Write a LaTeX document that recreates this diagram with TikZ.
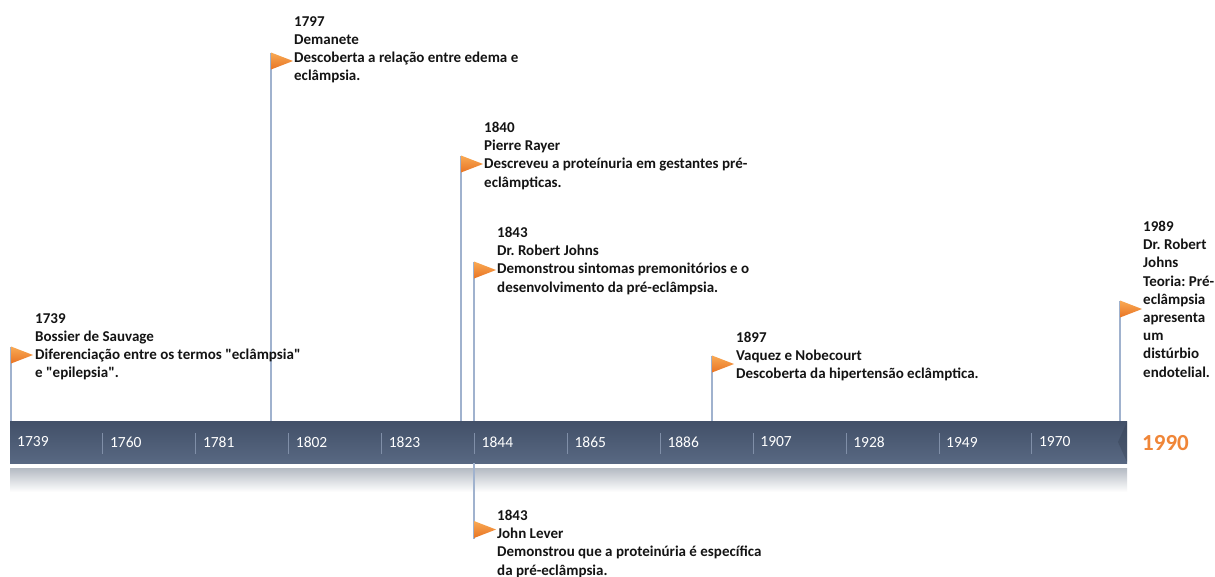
\documentclass[tikz,border=0pt]{standalone}
\usepackage{fontspec}
\setmainfont{Carlito}
\definecolor{barTop}{RGB}{66,80,104}
\definecolor{barBot}{RGB}{88,104,130}
\definecolor{tickc}{RGB}{128,143,168}
\definecolor{evline}{RGB}{160,178,206}
\definecolor{flagA}{RGB}{249,170,84}
\definecolor{flagB}{RGB}{232,116,36}
\definecolor{orangeTxt}{RGB}{240,134,56}
\definecolor{shadowc}{RGB}{180,186,195}
\definecolor{txtc}{RGB}{20,20,20}
\begin{document}
\frenchspacing
\begin{tikzpicture}[x=1pt,y=-1pt,
  evtext/.style={anchor=north west,inner sep=0pt,align=left,text=txtc,
    font=\frenchspacing\bfseries\fontsize{15}{18.2}\selectfont},
  ticklabel/.style={anchor=west,inner sep=0pt,text=white,
    font=\fontsize{15.5}{18}\selectfont},
  tickline/.style={draw=tickc,line width=0.9pt},
  evline/.style={draw=evline,line width=1.1pt},
  flagshape/.style={top color=flagA,bottom color=flagB,draw=none},
  barbox/.style={rectangle,inner sep=0pt,minimum width=1117pt,minimum height=42pt,
    top color=barTop,bottom color=barBot,draw=none}]
\useasboundingbox (0,0) rectangle (1215,576);
\fill[white] (0,0) rectangle (1215,576);

% reflection / shadow under the bar
\shade[top color=shadowc,bottom color=white] (10,468) rectangle (1127,492);

% the bar
\node[barbox] (bar) at (568.5,442) {};
\fill[barTop!70!black,opacity=0.3] (1127,422) -- (1118,442) -- (1127,462) -- cycle;

% ticks and labels
\node[ticklabel] (t1739) at (17,442) {1739};
\foreach \i/\yr in {1/1760,2/1781,3/1802,4/1823,5/1844,6/1865,7/1886,8/1907,9/1928,10/1949,11/1970}{
  \pgfmathsetmacro{\xx}{10+\i*92.9}
  \coordinate (s\yr) at (\xx,433);
  \draw[tickline] (s\yr) -- ++(0,21);
  \node[ticklabel] (t\yr) at (\xx+7,442) {\yr};
}
\node[anchor=west,inner sep=0pt,text=orangeTxt,font=\bfseries\fontsize{23}{26}\selectfont] (t1990) at (1142,443) {1990};

% flag anchor points (top of each flag)
\coordinate (f1739) at (11,346.5);
\coordinate (f1797) at (271,52.5);
\coordinate (f1840) at (461,155.5);
\coordinate (f1843a) at (474,261.5);
\coordinate (f1897) at (712,355.5);
\coordinate (f1989) at (1120,300.5);
\coordinate (f1843b) at (474,521);
\coordinate (end1843b) at (474,539);

% event lines
\foreach \f in {f1739,f1797,f1840,f1843a,f1897,f1989}{
  \draw[evline] (\f) -- (\f |- bar.north);
}
\draw[evline] (bar.south -| f1843b) -- (end1843b);

% flags
\foreach \f in {f1739,f1797,f1840,f1843a,f1897,f1989,f1843b}{
  \shade[flagshape] (\f) -- ++(22,8.5) -- ++(-22,8.5) -- cycle;
}

% event texts
\node[evtext] (e1739) at (35,313) {1739\\Bossier de Sauvage\\Diferenciação entre os termos \textquotedbl eclâmpsia\textquotedbl\\e \textquotedbl epilepsia\textquotedbl.};
\node[evtext] (e1797) at (294,16) {1797\\Demanete\\Descoberta a relação entre edema e\\eclâmpsia.};
\node[evtext] (e1840) at (484,122) {1840\\Pierre Rayer\\Descreveu a proteínuria em gestantes pré-\\eclâmpticas.};
\node[evtext] (e1843a) at (497,227) {1843\\Dr. Robert Johns\\Demonstrou sintomas premonitórios e o\\desenvolvimento da pré-eclâmpsia.};
\node[evtext] (e1897) at (736,332) {1897\\Vaquez e Nobecourt\\Descoberta da hipertensão eclâmptica.};
\node[evtext] (e1989) at (1143,221) {1989\\Dr. Robert\\Johns\\Teoria: Pré-\\eclâmpsia\\apresenta\\um\\distúrbio\\endotelial.};
\node[evtext] (e1843b) at (497,510) {1843\\John Lever\\Demonstrou que a proteinúria é específica\\da pré-eclâmpsia.};
\end{tikzpicture}
\end{document}
